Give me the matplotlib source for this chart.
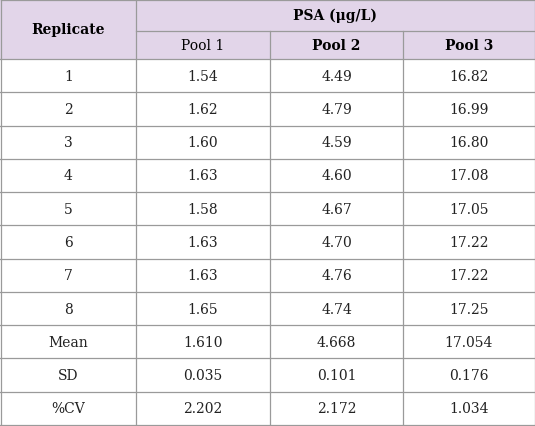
import matplotlib
matplotlib.use("Agg")
import matplotlib.pyplot as plt
from matplotlib.patches import Rectangle

replicates = ["1", "2", "3", "4", "5", "6", "7", "8", "Mean", "SD", "%CV"]
pool1 = ["1.54", "1.62", "1.60", "1.63", "1.58", "1.63", "1.63", "1.65", "1.610", "0.035", "2.202"]
pool2 = ["4.49", "4.79", "4.59", "4.60", "4.67", "4.70", "4.76", "4.74", "4.668", "0.101", "2.172"]
pool3 = ["16.82", "16.99", "16.80", "17.08", "17.05", "17.22", "17.22", "17.25", "17.054", "0.176", "1.034"]
group_header = "PSA (μg/L)"
col_headers = ["Pool 1", "Pool 2", "Pool 3"]
col_bold = [False, True, True]

W, H = 535, 427
fig = plt.figure(figsize=(W/100, H/100), dpi=100)
ax = fig.add_axes([0, 0, 1, 1])
ax.set_xlim(0, W); ax.set_ylim(H, 0); ax.axis("off")

xs = [0.5, 136, 270, 403, 534.5]
h1, h2 = 32, 60
rowh = (H - 1 - h2) / len(replicates)
hdr = "#e2d5e9"
lc = "#9a9a9a"
font = "DejaVu Serif"
fs = 10

ax.add_patch(Rectangle((0, 0), W, h2, color=hdr, lw=0))
lw = 0.9
# outer and header lines
ax.plot([0.5, 534.5, 534.5, 0.5, 0.5], [0.5, 0.5, H-0.5, H-0.5, 0.5], color=lc, lw=lw)
ax.plot([xs[1], xs[-1]], [h1, h1], color=lc, lw=lw)
ax.plot([xs[1], xs[1]], [0, H], color=lc, lw=lw)
for x in xs[2:4]:
    ax.plot([x, x], [h1, H], color=lc, lw=lw)
for i in range(len(replicates) + 1):
    y = h2 + i * rowh
    ax.plot([0, W], [y, y], color=lc, lw=lw)

ax.text((xs[0]+xs[1])/2, h2/2, "Replicate", ha="center", va="center", fontsize=fs, fontweight="bold", family=font)
ax.text((xs[1]+xs[-1])/2, h1/2, group_header, ha="center", va="center", fontsize=fs, fontweight="bold", family=font)
for j, (t, b) in enumerate(zip(col_headers, col_bold)):
    ax.text((xs[j+1]+xs[j+2])/2, (h1+h2)/2, t, ha="center", va="center", fontsize=fs,
            fontweight="bold" if b else "normal", family=font)

cols = [replicates, pool1, pool2, pool3]
for i in range(len(replicates)):
    y = h2 + (i + 0.5) * rowh
    for j, c in enumerate(cols):
        ax.text((xs[j]+xs[j+1])/2, y, c[i], ha="center", va="center", fontsize=fs, family=font, color="#222222")

fig.savefig("out.png", dpi=100)
